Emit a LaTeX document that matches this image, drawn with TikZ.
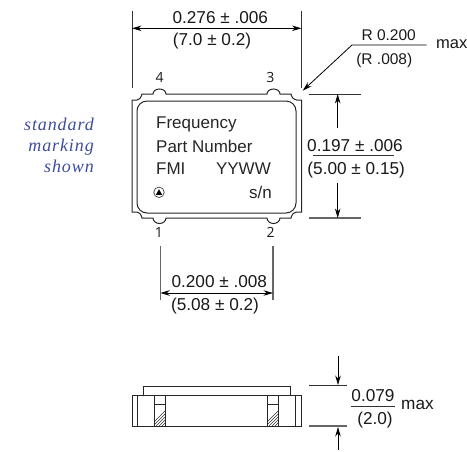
\documentclass[tikz,border=0pt]{standalone}
\usepackage{fontspec}
\setmainfont{Liberation Sans}
\newfontfamily\serifit[LetterSpace=5]{Liberation Serif}
\newfontfamily\pinfont{Open Sans}
\usetikzlibrary{arrows.meta}
\definecolor{noteblue}{RGB}{62,78,150}
\tikzset{
  x=1pt,y=-1pt,
  dimline/.style={line width=0.8pt,black},
  extline/.style={line width=0.8pt,black!80},
  grayext/.style={line width=1.1pt,black!60},
  dimarrow/.style={dimline,{Stealth[length=9.5pt,width=5.5pt]}-{Stealth[length=9.5pt,width=5.5pt]}},
  onearrow/.style={dimline,-{Stealth[length=9.5pt,width=5.5pt]}},
  outline/.style={line width=1pt,black!85},
  hatchline/.style={line width=0.6pt,black!80},
  dimtext/.style={inner sep=0pt,anchor=base,font=\fontsize{17.2}{19}\selectfont,text=black!90},
  smalltext/.style={inner sep=0pt,anchor=base,font=\fontsize{15.5}{17}\selectfont,text=black!90},
  pintext/.style={inner sep=0pt,anchor=base,font=\fontsize{14}{15}\selectfont\pinfont,text=black!90},
  marktext/.style={inner sep=0pt,font=\fontsize{17}{19}\selectfont,text=black!85},
  notetext/.style={inner sep=0pt,font=\fontsize{18}{20}\selectfont\serifit\itshape,text=noteblue,anchor=base east},
}
\begin{document}
\begin{tikzpicture}
\useasboundingbox (0,0) rectangle (467,451);
% top view outline
\draw[outline] (142,94) -- (153,94) arc[start angle=180,end angle=360,x radius=6.5,y radius=5] -- (267,94) arc[start angle=180,end angle=360,x radius=6.5,y radius=5] -- (291,94)
  .. controls (292,98) and (294,100) .. (296.5,100) -- (301.5,100) -- (301.5,212) -- (296.5,212)
  .. controls (294,212) and (292,214) .. (291,218) -- (280,218) arc[start angle=0,end angle=180,x radius=6.5,y radius=5.5] -- (166,218) arc[start angle=0,end angle=180,x radius=6.5,y radius=5.5] -- (142,218)
  .. controls (141,214) and (139,212) .. (137,212) -- (132,212) -- (132,100) -- (137,100)
  .. controls (139,100) and (141,98) .. (142,94) -- cycle;
\draw[outline] (147,101) -- (286,101) arc[start angle=-90,end angle=0,radius=10] -- (296,203) arc[start angle=0,end angle=90,radius=10] -- (147,213) arc[start angle=90,end angle=180,radius=10] -- (137,111) arc[start angle=180,end angle=270,radius=10] -- cycle;
% marking
\node[marktext,anchor=base west] (freq) at (156,128) {Frequency};
\node[marktext,anchor=base west] (part) at (156,152.5) {Part Number};
\node[marktext,anchor=base west] (fmi) at (156,174.5) {FMI};
\node[marktext,anchor=base east] (yyww) at (271,174.5) {YYWW};
\node[marktext,anchor=base east] (sn) at (272,198) {s/n};
\node[circle,draw=black!75,line width=0.7pt,minimum size=10.5pt,inner sep=0pt] (dot) at (159,192.3) {};
\fill[black] (155.9,194.8) -- (162.1,194.8) -- (159,189.2) -- cycle;
% pins
\node[pintext] (p4) at (159.7,82.7) {4};
\node[pintext] (p3) at (270.3,82.7) {3};
\node[pintext] (p1) at (159,237.7) {1};
\node[pintext] (p2) at (270.7,237.7) {2};
% top dimension
\coordinate (tl0) at (132,11); \coordinate (tl1) at (132,88);
\coordinate (tr0) at (301.5,11); \coordinate (tr1) at (301.5,88);
\draw[extline] (tl0) -- (tl1);
\draw[extline] (tr0) -- (tr1);
\coordinate (ta) at (132,28.3); \coordinate (tb) at (301.5,28.3);
\draw[dimarrow] (ta) -- (tb);
\node[dimtext] (d1) at (220.3,23.3) {0.276 ± .006};
\node[dimtext] (d2) at (212,45.7) {(7.0 ± 0.2)};
% radius
\coordinate (ra) at (426.7,45); \coordinate (rb) at (352,45); \coordinate (rc) at (302.7,90.7);
\draw[onearrow] (ra) -- (rb) -- (rc);
\node[smalltext] (r1) at (388.7,40) {R 0.200};
\node[smalltext] (r2) at (384.3,64) {(R .008)};
\node[dimtext,anchor=base east,font=\fontsize{16.5}{18}\selectfont] (rmax) at (467.5,48.5) {max};
% right dimension
\coordinate (ha) at (309,94); \coordinate (hb) at (361,94);
\coordinate (ia) at (309,218); \coordinate (ib) at (361,218);
\draw[extline] (ha) -- (hb);
\draw[grayext] (ia) -- (ib);
\coordinate (v0) at (337.7,94); \coordinate (v1) at (337.7,128);
\coordinate (v2) at (337.7,218); \coordinate (v3) at (337.7,182.7);
\draw[onearrow] (v1) -- (v0);
\draw[onearrow] (v3) -- (v2);
\node[dimtext] (d3) at (355,151.7) {0.197 ± .006};
\node[dimtext] (d4) at (356.2,174) {(5.00 ± 0.15)};
\coordinate (u0) at (313,155.7); \coordinate (u1) at (393.5,155.7);
\draw[extline] (u0) -- (u1);
% note
\node[notetext] (n1) at (94,130) {standard};
\node[notetext] (n2) at (94,151) {marking};
\node[notetext] (n3) at (94,172.5) {shown};
% bottom dimension
\coordinate (bl0) at (160.3,246); \coordinate (bl1) at (160.3,300);
\coordinate (br0) at (273,246); \coordinate (br1) at (273,300);
\draw[grayext] (bl0) -- (bl1);
\draw[grayext] (br0) -- (br1);
\coordinate (ba) at (160.3,293); \coordinate (bb) at (273,293);
\draw[dimarrow] (ba) -- (bb);
\node[dimtext] (d5) at (219.3,287.7) {0.200 ± .008};
\node[dimtext] (d6) at (215,310) {(5.08 ± 0.2)};
% side view
\begin{scope}
  \clip (154.3,404) rectangle (165.7,426);
  \foreach \k in {0,3,...,36} \draw[hatchline] (150+\k,426) -- (150+\k+22,404);
\end{scope}
\begin{scope}
  \clip (267.3,404) rectangle (278.7,426);
  \foreach \k in {0,3,...,36} \draw[hatchline] (263+\k,426) -- (263+\k+22,404);
\end{scope}
\draw[outline] (132,395) rectangle (301.5,426);
\draw[outline] (143,386) rectangle (290.5,395);
\foreach \xx in {137.3,154.3,165.7,267.3,278.7,295.7} \draw[outline] (\xx,395) -- (\xx,426);
\draw[outline] (154.3,404) -- (165.7,404);
\draw[outline] (267.3,404) -- (278.7,404);
% side dimension
\coordinate (sa) at (309,385.7); \coordinate (sb) at (346.7,385.7);
\coordinate (sc) at (309,426); \coordinate (sd) at (346.7,426);
\draw[extline] (sa) -- (sb);
\draw[grayext] (sc) -- (sd);
\coordinate (s0) at (338,356); \coordinate (s1) at (338,385);
\coordinate (s2) at (338,450); \coordinate (s3) at (338,427);
\draw[onearrow] (s0) -- (s1);
\draw[onearrow] (s2) -- (s3);
\node[dimtext] (d7) at (373,401.7) {0.079};
\node[dimtext] (d8) at (375,424) {(2.0)};
\coordinate (f0) at (351,406); \coordinate (f1) at (395,406);
\draw[extline] (f0) -- (f1);
\node[dimtext,anchor=base west] (smax) at (401,409) {max};
\end{tikzpicture}
\end{document}
